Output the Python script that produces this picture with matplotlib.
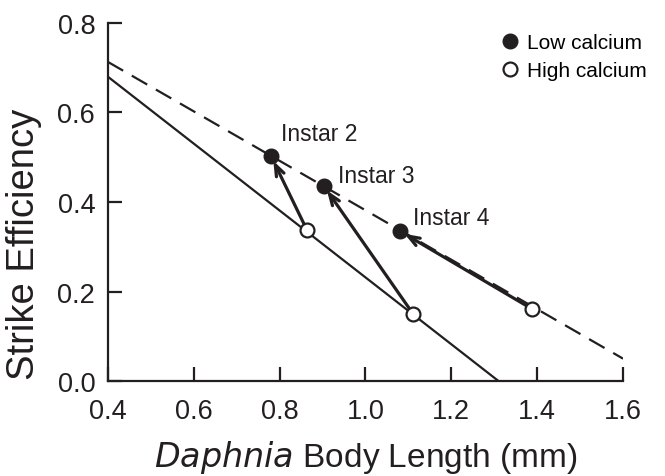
import matplotlib
matplotlib.use("Agg")
import matplotlib.pyplot as plt

plt.rcParams['font.family'] = ['Liberation Sans', 'DejaVu Sans']

instars = ["Instar 2", "Instar 3", "Instar 4"]
low_x = [0.78, 0.903, 1.08]
low_y = [0.503, 0.436, 0.335]
high_x = [0.864, 1.111, 1.388]
high_y = [0.337, 0.150, 0.161]
solid_x = [0.4, 1.31]
solid_y = [0.68, 0.0]
dash_x = [0.4, 1.6]
dash_y = [0.713, 0.05]
xticks = [0.4, 0.6, 0.8, 1.0, 1.2, 1.4, 1.6]
yticks = [0.0, 0.2, 0.4, 0.6, 0.8]

INK = '#231f20'
fig = plt.figure(figsize=(6.65, 4.77), dpi=100)
ax = fig.add_axes([0.162, 0.199, 0.775, 0.751])

ax.plot(solid_x, solid_y, color=INK, lw=1.6, zorder=2)
ax.plot(dash_x, dash_y, color=INK, lw=1.6, ls=(0, (8, 4.5)), zorder=2)

for x0, y0, x1, y1 in zip(high_x, high_y, low_x, low_y):
    ax.annotate("", xy=(x1, y1), xytext=(x0, y0),
                arrowprops=dict(arrowstyle='->,head_length=0.8,head_width=0.3',
                                color=INK, lw=2.3, shrinkA=5, shrinkB=4),
                zorder=3)

ax.plot(low_x, low_y, 'o', color=INK, ms=10.5, zorder=4, label='Low calcium')
ax.plot(high_x, high_y, 'o', mfc='white', mec=INK, mew=1.6, ms=10, zorder=4,
        label='High calcium')

offsets = [(0.023, 0.049), (0.033, 0.024), (0.031, 0.031)]
for name, x, y, (dx, dy) in zip(instars, low_x, low_y, offsets):
    ax.text(x + dx, y + dy, name, fontsize=16.5, color=INK, ha='left', va='center')

ax.set_xlim(0.4, 1.6)
ax.set_ylim(0.0, 0.8)
ax.set_xticks(xticks)
ax.set_xticklabels([f"{v:.1f}" for v in xticks])
ax.set_yticks(yticks)
ax.set_yticklabels([f"{v:.1f}" for v in yticks])
ax.tick_params(direction='in', length=10, width=1.6, labelsize=19.5, colors=INK)
ax.tick_params(axis='x', pad=12)
ax.tick_params(axis='y', pad=9)
for s in ['top', 'right']:
    ax.spines[s].set_visible(False)
for s in ['left', 'bottom']:
    ax.spines[s].set_linewidth(1.6)
    ax.spines[s].set_color(INK)

ax.set_xlabel(r"$\it{Daphnia}$ Body Length (mm)", fontsize=24, color=INK)
ax.set_ylabel("Strike Efficiency", fontsize=27.5, color=INK)
ax.xaxis.set_label_coords(0.5, -0.16)
ax.yaxis.set_label_coords(-0.128, 0.385)

fig.legend(*ax.get_legend_handles_labels(), loc='upper left',
           bbox_to_anchor=(0.751, 0.929), bbox_transform=fig.transFigure,
           frameon=False, fontsize=15, borderaxespad=0, borderpad=0,
           handletextpad=0.32, labelspacing=0.45, handlelength=1.0, markerscale=1.0)

fig.savefig("out.png", dpi=100)
